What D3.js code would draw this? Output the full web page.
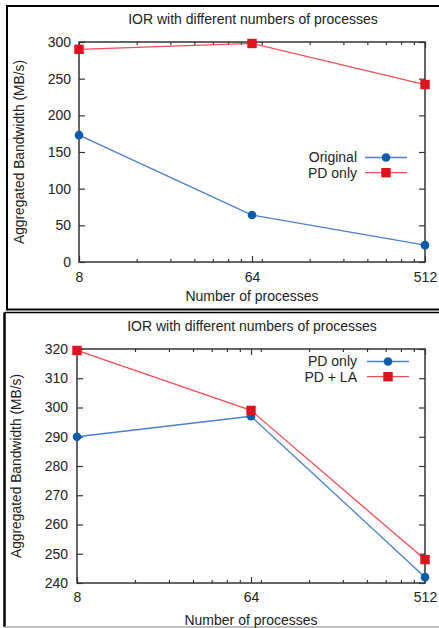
<!DOCTYPE html>
<html>
<head>
<meta charset="utf-8">
<script src="https://cdn.jsdelivr.net/npm/d3@7"></script>
<style>
body{margin:0;background:#fff}
text{font-family:"Liberation Sans",Arial,sans-serif;fill:#222}
</style>
</head>
<body>
<svg id="canvas" width="439" height="628"></svg>
<script>
const procs=[8,64,512]
const majorTicks=[8,64,512]
const minorTicks=[16,24,32,40,48,56,72,128,192,256,320,384,448]

const topTitle="IOR with different numbers of processes"
const topNames=["Original","PD only"]
const topOriginal=[173,64,23]
const topPdOnly=[290,298,242]
const topYTicks=[0,50,100,150,200,250,300]

const botTitle="IOR with different numbers of processes"
const botNames=["PD only","PD + LA"]
const botPdOnly=[290,297,242]
const botPdLa=[319.5,299,248]
const botYTicks=[240,250,260,270,280,290,300,310,320]

const xLabel="Number of processes"
const yLabel="Aggregated Bandwidth (MB/s)"

const blueLine="#4a7fc9",blueMark="#0b5cab"
const redLine="#ef4c57",redMark="#e0121f"

let canvas=d3.select("#canvas")

// panel frames
canvas.append("rect").attr("x",7).attr("y",6).attr("width",445).attr("height",303.5)
  .attr("fill","none").attr("stroke","#000").attr("stroke-width",2)
canvas.append("line").attr("x1",4.5).attr("x2",445).attr("y1",312.5).attr("y2",312.5)
  .attr("stroke","#000").attr("stroke-width",1.6)
canvas.append("line").attr("x1",4.5).attr("x2",4.5).attr("y1",312.5).attr("y2",627)
  .attr("stroke","#000").attr("stroke-width",2.5)
canvas.append("line").attr("x1",4.5).attr("x2",445).attr("y1",627).attr("y2",627)
  .attr("stroke","#aaa").attr("stroke-width",1.5)

let drawPanel=(p)=>{
  const g=canvas.append("g")
  const x=d3.scaleLog().base(2).domain([8,512]).range([p.left,p.right])
  const y=d3.scaleLinear().domain(p.ydom).range([p.bottom,p.top])

  const styleAxis=(a)=>{
    a.select(".domain").remove()
    a.selectAll("line").attr("stroke","#333").attr("stroke-width",1.2)
    a.selectAll("text").style("font-size","14px").attr("fill","#222")
  }
  // bottom axis
  g.append("g").attr("transform",`translate(0,${p.bottom})`)
    .call(d3.axisBottom(x).tickValues(majorTicks).tickFormat(d3.format("d")).tickSizeInner(-6).tickSizeOuter(0).tickPadding(p.xpad))
    .call(styleAxis)
  g.append("g").attr("transform",`translate(0,${p.bottom})`)
    .call(d3.axisBottom(x).tickValues(minorTicks).tickFormat("").tickSizeInner(-3).tickSizeOuter(0))
    .call(styleAxis)
  // top mirror
  g.append("g").attr("transform",`translate(0,${p.top})`)
    .call(d3.axisTop(x).tickValues(majorTicks).tickFormat("").tickSizeInner(-6).tickSizeOuter(0))
    .call(styleAxis)
  g.append("g").attr("transform",`translate(0,${p.top})`)
    .call(d3.axisTop(x).tickValues(minorTicks).tickFormat("").tickSizeInner(-3).tickSizeOuter(0))
    .call(styleAxis)
  // left axis
  g.append("g").attr("transform",`translate(${p.left},0)`)
    .call(d3.axisLeft(y).tickValues(p.yticks).tickSizeInner(-6).tickSizeOuter(0).tickPadding(p.ypad))
    .call(styleAxis)
  // right mirror
  g.append("g").attr("transform",`translate(${p.right},0)`)
    .call(d3.axisRight(y).tickValues(p.yticks).tickFormat("").tickSizeInner(-6).tickSizeOuter(0))
    .call(styleAxis)

  g.append("rect").attr("x",p.left).attr("y",p.top)
    .attr("width",p.right-p.left).attr("height",p.bottom-p.top)
    .attr("fill","none").attr("stroke","#333").attr("stroke-width",1.5)

  // title and labels
  g.append("text").attr("x",(p.left+p.right)/2+1).attr("y",p.titleY)
    .attr("text-anchor","middle").style("font-size","14px").text(p.title)
  g.append("text").attr("x",(p.left+p.right)/2).attr("y",p.xlabY)
    .attr("text-anchor","middle").style("font-size","14px").text(xLabel)
  g.append("text").attr("transform",`translate(${p.ylabX},${(p.top+p.bottom)/2}) rotate(-90)`)
    .attr("text-anchor","middle").style("font-size","13.8px").text(yLabel)

  const line=d3.line().x((d,i)=>x(procs[i])).y(d=>y(d))
  const series=[
    {name:p.names[0],vals:p.s1,lc:blueLine,mc:blueMark,shape:"circle"},
    {name:p.names[1],vals:p.s2,lc:redLine,mc:redMark,shape:"square"}
  ]
  const marker=(sel,s,cx,cy)=>{
    if(s.shape==="circle"){
      sel.append("circle").attr("cx",cx).attr("cy",cy).attr("r",4.3).attr("fill",s.mc)
    }else{
      sel.append("rect").attr("x",cx-4.7).attr("y",cy-4.7).attr("width",9.4).attr("height",9.4).attr("fill",s.mc)
    }
  }
  series.forEach((s,k)=>{
    g.append("path").datum(s.vals).attr("d",line)
      .attr("fill","none").attr("stroke",s.lc).attr("stroke-width",1.3)
    s.vals.forEach((v,i)=>marker(g,s,x(procs[i]),y(v)))
    // legend
    const ly=p.legY+k*15.2
    g.append("text").attr("x",p.legTextX).attr("y",ly).attr("dy","0.35em")
      .attr("text-anchor","end").style("font-size","14px").text(s.name)
    g.append("line").attr("x1",p.legX1).attr("x2",p.legX2).attr("y1",ly).attr("y2",ly)
      .attr("stroke",s.lc).attr("stroke-width",1.3)
    marker(g,s,(p.legX1+p.legX2)/2,ly)
  })
}

drawPanel({left:79,right:425,top:42,bottom:262,ydom:[0,300],yticks:topYTicks,
  xpad:10,ypad:8,title:topTitle,titleY:24,xlabY:301,ylabX:24,
  names:topNames,s1:topOriginal,s2:topPdOnly,
  legY:157.5,legTextX:357,legX1:365,legX2:407})

drawPanel({left:77,right:425,top:349,bottom:583,ydom:[240,320],yticks:botYTicks,
  xpad:9,ypad:9,title:botTitle,titleY:331,xlabY:625,ylabX:21,
  names:botNames,s1:botPdOnly,s2:botPdLa,
  legY:361.5,legTextX:357,legX1:367,legX2:409})
</script>
</body>
</html>
